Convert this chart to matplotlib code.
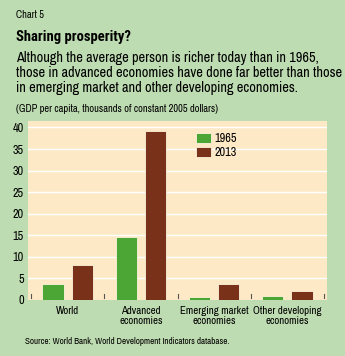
import matplotlib
matplotlib.use("Agg")
import matplotlib.pyplot as plt
import numpy as np

plt.rcParams['font.family'] = ['Archivo Narrow', 'DejaVu Sans']

categories = ["World", "Advanced\neconomies", "Emerging market\neconomies", "Other developing\neconomies"]
series_names = ["1965", "2013"]
v1965 = [3.7, 14.6, 0.75, 0.85]
v2013 = [8.0, 39.2, 3.7, 2.0]
yticks = [0, 5, 10, 15, 20, 25, 30, 35, 40]

BG = "#bedcb1"
PLOT = "#fde9c6"
GREEN = "#4ba636"
BROWN = "#7a3119"

W, H = 345, 356
fig = plt.figure(figsize=(W/100, H/100), dpi=100, facecolor=BG)

def fx(px): return px / W
def fy(py): return 1 - py / H

ax = fig.add_axes([fx(28), fy(300), fx(327) - fx(28), fy(121) - fy(300)])
ax.set_facecolor(PLOT)
x = np.arange(len(categories))
w = 0.29
ax.bar(x - 0.2, v1965, w, color=GREEN, edgecolor="#fff3dc", linewidth=0.6, label=series_names[0], zorder=3)
ax.bar(x + 0.2, v2013, w, color=BROWN, edgecolor="#fff3dc", linewidth=0.6, label=series_names[1], zorder=3)
ax.set_xlim(-0.54, 3.54)
ax.set_ylim(0, 41.5)
ax.set_yticks(yticks)
ax.set_yticklabels([str(t) for t in yticks], fontsize=8.8)
for t in yticks[1:]:
    ax.axhline(t, color="white", linewidth=1.0, zorder=1)
ax.set_xticks(x)
ax.set_xticklabels(categories, fontsize=7.8, linespacing=1.05)
ax.tick_params(axis='x', length=0, pad=4)
ax.tick_params(axis='y', length=0, pad=3)
for b in np.arange(-0.5, 4.0, 1.0):
    ax.plot([b, b], [0.4, 1.4], color="#555555", linewidth=0.8, zorder=2, clip_on=False)
for s in ax.spines.values():
    s.set_visible(False)

leg = ax.legend(loc="upper left", bbox_to_anchor=(0.545, 0.96), frameon=False, fontsize=8.8,
                handlelength=1.2, handleheight=0.9, handletextpad=0.3, labelspacing=0.2, borderaxespad=0)

fig.text(fx(16), fy(15), "Chart 5", fontsize=7.5, va="center", ha="left")
fig.text(fx(16), fy(37), "Sharing prosperity?", fontsize=10.5, fontweight="bold",
         family=['Roboto Condensed', 'DejaVu Sans'], va="center", ha="left")
sub = ["Although the average person is richer today than in 1965,",
       "those in advanced economies have done far better than those",
       "in emerging market and other developing economies."]
for i, line in enumerate(sub):
    fig.text(fx(16), fy(58 + 15 * i), line, fontsize=10.3, va="center", ha="left")
fig.text(fx(16), fy(109), "(GDP per capita, thousands of constant 2005 dollars)", fontsize=7.5, va="center", ha="left")
fig.text(fx(25), fy(342), "Source: World Bank, World Development Indicators database.", fontsize=6.5, va="center", ha="left")

fig.savefig("out.png", dpi=100, facecolor=BG)
